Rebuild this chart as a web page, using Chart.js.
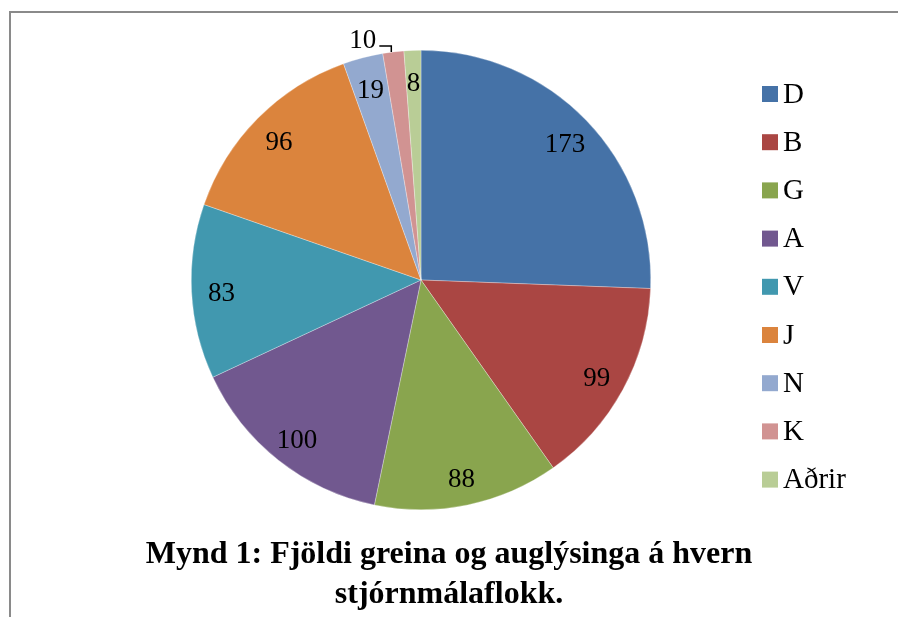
<!DOCTYPE html>
<html>
<head>
<meta charset="utf-8">
<script src="https://cdn.jsdelivr.net/npm/chart.js@4.4.1/dist/chart.umd.min.js"></script>
<style>
  html, body { margin: 0; padding: 0; background: #fff; overflow: hidden; }
  #wrap { position: relative; width: 898px; height: 617px; }
  #frame { position: absolute; left: 9px; top: 11px; width: 1000px; height: 1000px;
           border-left: 2px solid #8a8a8a; border-top: 2px solid #8a8a8a; }
  canvas { position: absolute; left: 0; top: 0; }
  #title { position: absolute; left: 0; top: 532px; width: 898px; text-align: center;
           font-family: "Liberation Serif", "Times New Roman", serif; font-weight: bold;
           font-size: 32px; line-height: 40px; color: #000; }
</style>
</head>
<body>
<div id="wrap">
  <div id="frame"></div>
  <canvas id="chart" width="898" height="617"></canvas>
  <div id="title">Mynd 1: Fjöldi greina og auglýsinga á hvern<br>stjórnmálaflokk.</div>
</div>
<script>
const parties = ['D', 'B', 'G', 'A', 'V', 'J', 'N', 'K', 'Aðrir'];
const counts = [173, 99, 88, 100, 83, 96, 19, 10, 8];
const colors = ['#4572A7', '#AA4643', '#89A54E', '#71588F', '#4198AF', '#DB843D', '#93A9CF', '#D19392', '#B9CD96'];

const serif = '"Liberation Serif", "Times New Roman", serif';

// value labels, inside near the rim, outside with a small leader when the slice is too thin
const sliceLabels = {
  id: 'sliceLabels',
  afterDatasetsDraw(chart) {
    const ctx = chart.ctx;
    const arcs = chart.getDatasetMeta(0).data;
    ctx.save();
    ctx.font = '27px ' + serif;
    ctx.fillStyle = '#000';
    arcs.forEach((arc, i) => {
      const p = arc.getProps(['x', 'y', 'startAngle', 'endAngle', 'outerRadius'], true);
      const mid = (p.startAngle + p.endAngle) / 2;
      const text = String(chart.data.datasets[0].data[i]);
      const w = ctx.measureText(text).width;
      const r = p.outerRadius * 0.87;
      const room = (p.endAngle - p.startAngle) * r;
      if (room > w) {
        ctx.textAlign = 'center';
        ctx.textBaseline = 'middle';
        ctx.fillText(text, p.x + Math.cos(mid) * r, p.y + Math.sin(mid) * r + 4);
      } else {
        const ex = p.x + Math.cos(mid) * p.outerRadius;
        const ey = p.y + Math.sin(mid) * p.outerRadius;
        ctx.strokeStyle = '#000';
        ctx.lineWidth = 1.5;
        ctx.beginPath();
        ctx.moveTo(ex - 2, ey);
        ctx.lineTo(ex - 2, ey - 6);
        ctx.lineTo(ex - 14, ey - 6);
        ctx.stroke();
        ctx.textAlign = 'right';
        ctx.textBaseline = 'middle';
        ctx.fillText(text, ex - 17, ey - 11);
      }
    });
    ctx.restore();
  }
};

// legend on the right
const sideLegend = {
  id: 'sideLegend',
  afterDraw(chart) {
    const ctx = chart.ctx;
    const x0 = 762, y0 = 94, step = 48.2, box = 16;
    ctx.save();
    ctx.font = '29px ' + serif;
    ctx.textAlign = 'left';
    ctx.textBaseline = 'middle';
    chart.data.labels.forEach((lab, i) => {
      const y = y0 + i * step;
      ctx.fillStyle = chart.data.datasets[0].backgroundColor[i];
      ctx.fillRect(x0, y - box / 2, box, box);
      ctx.fillStyle = '#000';
      ctx.fillText(lab, x0 + 21, y + 1);
    });
    ctx.restore();
  }
};

new Chart(document.getElementById('chart'), {
  type: 'pie',
  data: {
    labels: parties,
    datasets: [{
      data: counts,
      backgroundColor: colors,
      borderColor: 'rgba(255,255,255,0.6)',
      borderWidth: 0.5
    }]
  },
  options: {
    responsive: false,
    animation: false,
    layout: { padding: { left: 191, right: 247, top: 50, bottom: 107 } },
    plugins: {
      legend: { display: false },
      tooltip: { enabled: false }
    }
  },
  plugins: [sliceLabels, sideLegend]
});
</script>
</body>
</html>
